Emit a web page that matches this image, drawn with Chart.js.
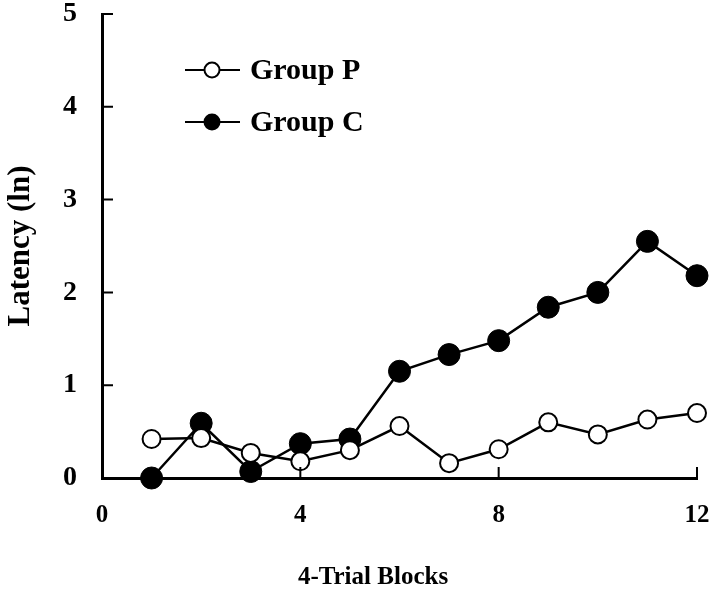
<!DOCTYPE html>
<html>
<head>
<meta charset="utf-8">
<script src="https://cdn.jsdelivr.net/npm/chart.js@4/dist/chart.umd.min.js"></script>
<style>
  html, body { margin: 0; padding: 0; background: #fff; }
  #wrap { width: 712px; height: 596px; }
</style>
</head>
<body>
<div id="wrap"><canvas id="lineChart"></canvas></div>
<script>
// data
const blocks = [1, 2, 3, 4, 5, 6, 7, 8, 9, 10, 11, 12];
const groupP = [0.42, 0.43, 0.27, 0.18, 0.30, 0.56, 0.16, 0.31, 0.60, 0.47, 0.63, 0.70];
const groupC = [0.00, 0.59, 0.07, 0.37, 0.42, 1.15, 1.33, 1.48, 1.84, 2.00, 2.55, 2.18];
const xTicks = [4, 8, 12];
const yTicks = [1, 2, 3, 4, 5];
const xTitle = '4-Trial Blocks';

const serif = '"Liberation Serif", "Times New Roman", serif';

// tick marks pointing into the plot, plus the x title (sits left of centre in the original)
const axisExtras = {
  id: 'axisExtras',
  afterDraw(chart) {
    const ctx = chart.ctx;
    const x = chart.scales.x, y = chart.scales.y;
    ctx.save();
    ctx.strokeStyle = '#000';
    ctx.lineWidth = 2;
    ctx.beginPath();
    xTicks.forEach(v => {
      const px = x.getPixelForValue(v);
      ctx.moveTo(px, y.bottom);
      ctx.lineTo(px, y.bottom - 11);
    });
    yTicks.forEach(v => {
      const py = y.getPixelForValue(v);
      ctx.moveTo(x.left, py);
      ctx.lineTo(x.left + 11, py);
    });
    ctx.stroke();
    ctx.fillStyle = '#000';
    ctx.font = 'bold 25px ' + serif;
    ctx.textAlign = 'center';
    ctx.textBaseline = 'middle';
    ctx.fillText(xTitle, 373, 578);
    ctx.restore();
  }
};

// legend: line through marker, then label
const lineLegend = {
  id: 'lineLegend',
  afterDraw(chart) {
    const ctx = chart.ctx;
    ctx.save();
    chart.data.datasets.forEach((ds, i) => {
      const cy = 70 + i * 52;
      ctx.strokeStyle = '#000';
      ctx.lineWidth = 2;
      ctx.beginPath();
      ctx.moveTo(185, cy);
      ctx.lineTo(240, cy);
      ctx.stroke();
      ctx.beginPath();
      ctx.arc(212, cy, 7.5, 0, Math.PI * 2);
      ctx.fillStyle = ds.pointBackgroundColor;
      ctx.fill();
      ctx.stroke();
      ctx.fillStyle = '#000';
      ctx.font = 'bold 30px ' + serif;
      ctx.textBaseline = 'middle';
      ctx.fillText(ds.label, 250, cy + 1);
    });
    ctx.restore();
  }
};

new Chart(document.getElementById('lineChart'), {
  type: 'line',
  data: {
    datasets: [{
      label: 'Group P',
      data: blocks.map((b, i) => ({ x: b, y: groupP[i] })),
      borderColor: '#000',
      borderWidth: 2.5,
      pointRadius: 9,
      pointBorderWidth: 2,
      pointBackgroundColor: '#fff',
      pointBorderColor: '#000',
      tension: 0,
      clip: false
    }, {
      label: 'Group C',
      data: blocks.map((b, i) => ({ x: b, y: groupC[i] })),
      borderColor: '#000',
      borderWidth: 2.5,
      pointRadius: 11,
      pointBorderWidth: 1,
      pointBackgroundColor: '#000',
      pointBorderColor: '#000',
      tension: 0,
      clip: false
    }]
  },
  options: {
    responsive: true,
    maintainAspectRatio: false,
    animation: false,
    layout: { padding: { top: 14, right: 15, left: 0, bottom: 0 } },
    plugins: {
      legend: { display: false },
      tooltip: { enabled: false }
    },
    scales: {
      x: {
        type: 'linear',
        min: 0,
        max: 12,
        afterFit: s => { s.height = 118; s.paddingLeft = 0; s.paddingRight = 0; },
        afterBuildTicks: s => { s.ticks = [0, ...xTicks].map(v => ({ value: v })); },
        grid: { display: false, drawTicks: false },
        border: { display: true, color: '#000', width: 3 },
        ticks: { color: '#000', padding: 23, maxRotation: 0, font: { family: serif, size: 25, weight: 'bold' } }
      },
      y: {
        min: 0,
        max: 5,
        afterFit: s => { s.width = 102; s.paddingTop = 0; s.paddingBottom = 0; },
        afterBuildTicks: s => { s.ticks = [0, ...yTicks].map(v => ({ value: v })); },
        grid: { display: false, drawTicks: false },
        border: { display: true, color: '#000', width: 3 },
        ticks: { color: '#000', padding: 25, font: { family: serif, size: 28, weight: 'bold' } },
        title: {
          display: true,
          text: 'Latency (ln)',
          color: '#000',
          padding: { top: 2, bottom: 0 },
          font: { family: serif, size: 31, weight: 'bold' }
        }
      }
    }
  },
  plugins: [axisExtras, lineLegend]
});
</script>
</body>
</html>
